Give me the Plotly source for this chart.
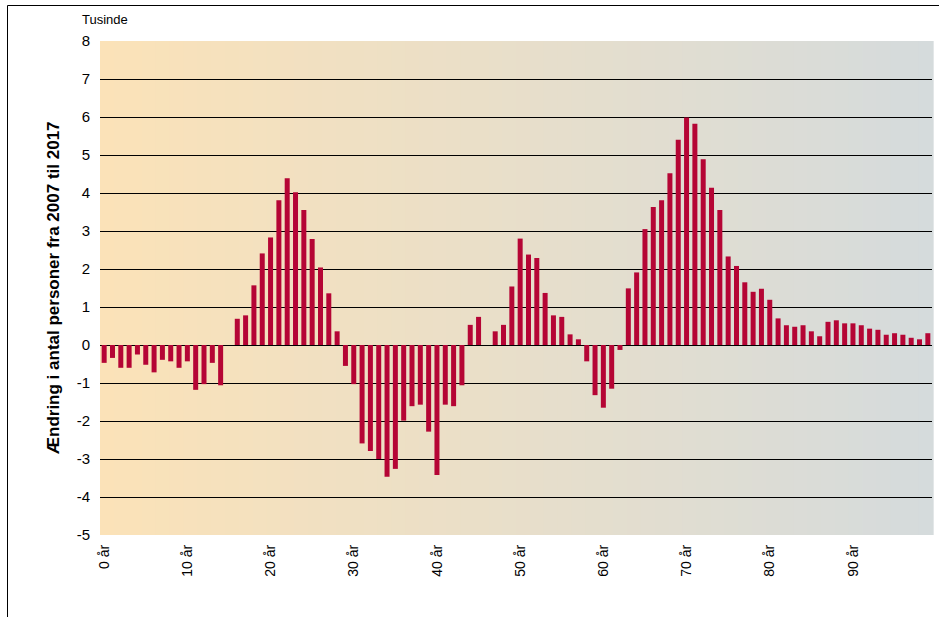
import plotly.graph_objects as go

ages = list(range(100))
change = [
    -0.47, -0.34, -0.60, -0.60, -0.25, -0.52, -0.72, -0.39, -0.43, -0.60,
    -0.43, -1.18, -1.03, -0.47, -1.06, 0.00, 0.69, 0.78, 1.57, 2.41,
    2.83, 3.81, 4.39, 4.02, 3.55, 2.79, 2.04, 1.36, 0.36, -0.55,
    -1.03, -2.59, -2.79, -3.00, -3.47, -3.26, -1.99, -1.61, -1.57, -2.28,
    -3.42, -1.57, -1.61, -1.06, 0.53, 0.74, 0.00, 0.36, 0.53, 1.54,
    2.80, 2.38, 2.29, 1.37, 0.78, 0.74, 0.28, 0.15, -0.43, -1.32,
    -1.65, -1.15, -0.13, 1.49, 1.91, 3.05, 3.63, 3.81, 4.52, 5.40,
    5.99, 5.82, 4.89, 4.14, 3.55, 2.33, 2.08, 1.65, 1.40, 1.48,
    1.19, 0.70, 0.52, 0.48, 0.52, 0.36, 0.23, 0.61, 0.65, 0.57,
    0.57, 0.52, 0.43, 0.40, 0.27, 0.31, 0.27, 0.19, 0.15, 0.31,
]
tick_vals = list(range(0, 100, 10))
tick_text = [f"{v} år" for v in tick_vals]
y_ticks = list(range(-5, 9))
y_tick_text = [str(v) for v in y_ticks]

FONT = "Arial, Liberation Sans, sans-serif"

fig = go.Figure()
fig.add_trace(go.Bar(x=ages, y=change, marker=dict(color="#b50535", line=dict(width=0)),
                     hoverinfo="x+y"))

# background gradient (orange-cream -> light grey) as vertical strips
c0 = (251, 226, 184)
c1 = (213, 219, 220)
n = 60
shapes = []
for i in range(n):
    t = i / (n - 1)
    c = tuple(round(c0[k] + (c1[k] - c0[k]) * t) for k in range(3))
    shapes.append(dict(type="rect", xref="x domain", yref="y domain",
                       x0=i / n, x1=(i + 1) / n + 0.002, y0=0, y1=1,
                       fillcolor=f"rgb{c}", line=dict(width=0), layer="below"))

# outer frame
W, H = 832, 494
shapes.append(dict(type="rect", xref="paper", yref="paper",
                   x0=(7.5 - 100) / W, x1=(945 - 100) / W,
                   y0=-(640 - 535) / H, y1=1 + (41 - 5.5) / H,
                   line=dict(color="black", width=1), fillcolor="rgba(0,0,0,0)"))

fig.update_layout(
    width=939, height=617,
    margin=dict(l=100, r=7, t=41, b=82),
    paper_bgcolor="white", plot_bgcolor="rgba(0,0,0,0)",
    bargap=0.4, showlegend=False,
    font=dict(family=FONT, size=14, color="black"),
    shapes=shapes,
    xaxis=dict(range=[-0.5, 99.5], tickvals=tick_vals, ticktext=tick_text,
               tickangle=-90, showgrid=False, zeroline=False, showline=False,
               ticks="", tickfont=dict(size=14), ticklabelstandoff=6),
    yaxis=dict(range=[-5, 8], tickvals=y_ticks, ticktext=y_tick_text, showgrid=True,
               gridcolor="black", gridwidth=1, zeroline=True, zerolinecolor="black",
               zerolinewidth=1, showline=False, ticks="", tickfont=dict(size=15),
               ticklabelstandoff=9),
    annotations=[
        dict(text="Tusinde", xref="paper", yref="paper", x=(80 - 100) / W,
             y=1 + (41 - 20) / H, xanchor="left", yanchor="middle",
             showarrow=False, font=dict(size=13)),
        dict(text="<b>Ændring i antal personer fra 2007 til 2017</b>", xref="paper",
             yref="paper", x=(53 - 100) / W, y=0.5, textangle=-90,
             xanchor="center", yanchor="middle", showarrow=False,
             font=dict(size=17)),
    ],
)

fig.write_html("out.html", config={"displayModeBar": False},
               post_script="document.body.style.margin='0';document.body.style.overflow='hidden';")
